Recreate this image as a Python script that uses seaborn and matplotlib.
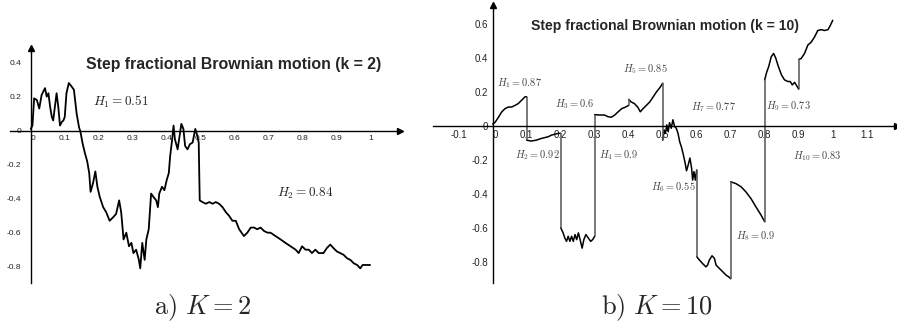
import numpy as np
import pandas as pd
import matplotlib
matplotlib.use("Agg")
import matplotlib.pyplot as plt
import seaborn as sns

sns.set_style("white")
plt.rcParams["font.family"] = ["Liberation Sans", "DejaVu Sans"]
plt.rcParams["mathtext.fontset"] = "cm"

# ── panel a) k = 2 : path ─────────────────────────────────────────────────
k2_t = [0, 0.005, 0.01, 0.018, 0.025, 0.032, 0.037, 0.042, 0.047, 0.052,
        0.057, 0.062, 0.066, 0.071, 0.076, 0.081, 0.086, 0.091, 0.096, 0.100,
        0.105, 0.112, 0.120, 0.127, 0.135, 0.142, 0.146, 0.152, 0.159, 0.166,
        0.172, 0.176, 0.183, 0.190, 0.196, 0.203, 0.213, 0.222, 0.232, 0.242,
        0.251, 0.260, 0.266, 0.273, 0.281, 0.289, 0.296, 0.302, 0.310, 0.318,
        0.322, 0.328, 0.335, 0.340, 0.347, 0.354, 0.361, 0.369, 0.374, 0.378,
        0.386, 0.393, 0.400, 0.406, 0.410, 0.416, 0.420, 0.424, 0.432, 0.437,
        0.443, 0.449, 0.454, 0.461, 0.468, 0.476, 0.484, 0.490, 0.494, 0.497,
        0.505, 0.515, 0.525, 0.535, 0.544, 0.554, 0.564, 0.574, 0.583, 0.593,
        0.603, 0.613, 0.627, 0.637, 0.647, 0.657, 0.666, 0.676, 0.686, 0.696,
        0.705, 0.720, 0.735, 0.749, 0.764, 0.779, 0.788, 0.798, 0.808, 0.818,
        0.827, 0.837, 0.847, 0.861, 0.871, 0.881, 0.890, 0.900, 0.910, 0.920,
        0.930, 0.940, 0.950, 0.960, 0.969, 0.976, 0.984, 0.993, 0.998]
k2_v = [0.01, 0.03, 0.19, 0.18, 0.13, 0.21, 0.23, 0.25, 0.20, 0.22,
        0.14, 0.08, 0.06, 0.14, 0.22, 0.14, 0.03, 0.05, 0.06, 0.08,
        0.22, 0.28, 0.26, 0.24, 0.10, 0.02, -0.005, -0.07, -0.13, -0.18,
        -0.25, -0.36, -0.31, -0.24, -0.33, -0.39, -0.45, -0.48, -0.53, -0.51,
        -0.49, -0.41, -0.48, -0.64, -0.60, -0.68, -0.66, -0.72, -0.70, -0.76,
        -0.81, -0.66, -0.76, -0.64, -0.58, -0.37, -0.39, -0.41, -0.45, -0.37,
        -0.33, -0.35, -0.29, -0.25, -0.15, -0.05, 0.03, -0.05, -0.11, -0.04,
        0.04, 0.01, -0.09, -0.11, -0.08, -0.07, 0.01, -0.03, -0.07, -0.41,
        -0.42, -0.43, -0.42, -0.43, -0.42, -0.43, -0.45, -0.48, -0.50, -0.53,
        -0.53, -0.58, -0.62, -0.60, -0.57, -0.57, -0.58, -0.57, -0.59, -0.60,
        -0.60, -0.62, -0.64, -0.66, -0.68, -0.70, -0.72, -0.68, -0.70, -0.70,
        -0.72, -0.70, -0.72, -0.72, -0.69, -0.67, -0.69, -0.71, -0.72, -0.73,
        -0.75, -0.76, -0.78, -0.79, -0.81, -0.79, -0.79, -0.79, -0.79]
k2_H = ["0.51", "0.84"]

# ── panel b) k = 10 : one piece per interval ─────────────────────────────
k10_t = [0, 0.007, 0.017, 0.026, 0.036, 0.046, 0.056, 0.066, 0.075, 0.085, 0.095, 0.1,
         0.1, 0.113, 0.128, 0.143, 0.153, 0.163, 0.173, 0.183, 0.193, 0.2,
         0.2, 0.207, 0.212, 0.217, 0.222, 0.227, 0.232, 0.237, 0.242, 0.247,
         0.252, 0.257, 0.263, 0.268, 0.274, 0.281, 0.288, 0.294, 0.3,
         0.3, 0.314, 0.329, 0.339, 0.349, 0.359, 0.369, 0.379, 0.389, 0.4,
         0.4, 0.407, 0.417, 0.427, 0.434, 0.442, 0.452, 0.462, 0.472, 0.482, 0.492, 0.5,
         0.5, 0.504, 0.508, 0.512, 0.516, 0.52, 0.525, 0.53, 0.535, 0.54, 0.545, 0.55,
         0.555, 0.56, 0.565, 0.57, 0.575, 0.58, 0.585, 0.588, 0.592, 0.596, 0.6,
         0.6, 0.608, 0.617, 0.627, 0.632, 0.637, 0.645, 0.652, 0.657, 0.667, 0.677,
         0.687, 0.695, 0.7,
         0.7, 0.715, 0.731, 0.745, 0.76, 0.775, 0.789, 0.8,
         0.8, 0.805, 0.812, 0.819, 0.826, 0.832, 0.839, 0.849, 0.858, 0.868, 0.875,
         0.881, 0.888, 0.9,
         0.9, 0.907, 0.917, 0.927, 0.936, 0.946, 0.956, 0.966, 0.976, 0.986, 0.993, 1.0]
k10_v = [0.01, 0.02, 0.05, 0.08, 0.10, 0.11, 0.11, 0.12, 0.13, 0.15, 0.17, 0.17,
         -0.085, -0.09, -0.085, -0.075, -0.07, -0.065, -0.055, -0.05, -0.045, -0.045,
         -0.60, -0.63, -0.66, -0.68, -0.65, -0.68, -0.65, -0.68, -0.64, -0.67,
         -0.63, -0.67, -0.72, -0.67, -0.64, -0.66, -0.68, -0.67, -0.65,
         0.065, 0.063, 0.063, 0.053, 0.05, 0.063, 0.082, 0.10, 0.108, 0.12,
         0.155, 0.14, 0.13, 0.108, 0.082, 0.10, 0.12, 0.14, 0.17, 0.20, 0.225, 0.25,
         -0.085, -0.025, -0.045, 0.005, -0.035, 0.018, -0.015, 0.035, -0.005, -0.015, -0.045, -0.095,
         -0.125, -0.165, -0.21, -0.265, -0.23, -0.19, -0.25, -0.32, -0.27, -0.32, -0.26,
         -0.77, -0.79, -0.81, -0.83, -0.82, -0.79, -0.765, -0.78, -0.82, -0.84, -0.86,
         -0.88, -0.89, -0.90,
         -0.33, -0.34, -0.36, -0.39, -0.43, -0.48, -0.525, -0.565,
         0.27, 0.31, 0.35, 0.405, 0.425, 0.40, 0.355, 0.30, 0.27, 0.26, 0.26,
         0.24, 0.255, 0.215,
         0.39, 0.395, 0.425, 0.475, 0.49, 0.52, 0.56, 0.565, 0.56, 0.565, 0.59, 0.62]
k10_seg = ([0] * 12 + [1] * 10 + [2] * 19 + [3] * 10 + [4] * 12 + [5] * 23
           + [6] * 14 + [7] * 8 + [8] * 14 + [9] * 12)
k10_H = ["0.87", "0.92", "0.6", "0.9", "0.85", "0.55", "0.77", "0.9", "0.73", "0.83"]

k2_xticks = [0, 0.1, 0.2, 0.3, 0.4, 0.5, 0.6, 0.7, 0.8, 0.9, 1]
k2_yticks = [-0.8, -0.6, -0.4, -0.2, 0, 0.2, 0.4]
k10_xticks = [-0.1, 0, 0.1, 0.2, 0.3, 0.4, 0.5, 0.6, 0.7, 0.8, 0.9, 1, 1.1]
k10_yticks = [-0.8, -0.6, -0.4, -0.2, 0, 0.2, 0.4, 0.6]

# label spots (data coords)
k2_Hpos = [(0.266, 0.17), (0.807, -0.37)]
k10_Hpos = [(0.08, 0.25), (0.13, -0.17), (0.24, 0.127), (0.37, -0.17), (0.45, 0.33),
            (0.53, -0.36), (0.65, 0.108), (0.775, -0.65), (0.87, 0.116), (0.953, -0.18)]

W, H = 897, 323
fig = plt.figure(figsize=(W / 100, H / 100), dpi=100)


def px_axes(x0, y0, x1, y1):
    return fig.add_axes([x0 / W, 1 - y1 / H, (x1 - x0) / W, (y1 - y0) / H])


def style_axes(ax, xticks, yticks, fs, ypad):
    for s in ["top", "right"]:
        ax.spines[s].set_visible(False)
    for s in ["left", "bottom"]:
        ax.spines[s].set_position(("data", 0))
        ax.spines[s].set_linewidth(1.0)
        ax.spines[s].set_color("black")
    ax.set_xticks(xticks, [f"{t:g}" for t in xticks])
    ax.set_yticks(yticks, [f"{t:g}" for t in yticks])
    ax.tick_params(length=0, labelsize=fs, colors="#222222")
    ax.tick_params(axis="y", pad=ypad)
    ax.tick_params(axis="x", pad=3)
    for lab in ax.get_xticklabels():
        if lab.get_text() == "0":
            lab.set_horizontalalignment("left")
    ax.plot(1, 0, ">", color="black", ms=4, transform=ax.get_yaxis_transform(), clip_on=False)
    ax.plot(0, 1, "^", color="black", ms=4, transform=ax.get_xaxis_transform(), clip_on=False)
    ax.set_xlabel("")
    ax.set_ylabel("")


# ── a) ──
ax1 = px_axes(10, 48, 400, 283)
ax1.set_xlim(-0.061, 1.086)
ax1.set_ylim(-0.896, 0.486)
sns.lineplot(x=k2_t, y=k2_v, sort=False, estimator=None, color="black", lw=1.3, ax=ax1)
style_axes(ax1, k2_xticks, k2_yticks, 6, 7)
ax1.text(0.598, 0.39, "Step fractional Brownian motion (k = 2)", ha="center", va="center",
         fontsize=11.4, fontweight="bold")
for i, (h, (x, y)) in enumerate(zip(k2_H, k2_Hpos)):
    ax1.text(x, y, rf"$H_{{{i + 1}}} = {h}$", ha="center", va="center", fontsize=9.5, color="#222222")

# ── b) ──
ax2 = px_axes(433, 5, 897, 283)
ax2.set_xlim(-0.1756, 1.189)
ax2.set_ylim(-0.925, 0.710)
df10 = pd.DataFrame({"t": k10_t, "v": k10_v, "seg": k10_seg})
sns.lineplot(data=df10, x="t", y="v", units="seg", estimator=None, sort=False,
             color="black", lw=1.1, ax=ax2)
ends = df10.groupby("seg").agg(t0=("t", "first"), v0=("v", "first"), v1=("v", "last"))
ax2.vlines(ends["t0"].values[1:], ends["v1"].values[:-1], ends["v0"].values[1:],
           color="#555555", lw=1.1)
style_axes(ax2, k10_xticks, k10_yticks, 7, 3.5)
ax2.text(0.508, 0.585, "Step fractional Brownian motion (k = 10)", ha="center", va="center",
         fontsize=10.1, fontweight="bold")
for i, (h, (x, y)) in enumerate(zip(k10_H, k10_Hpos)):
    ax2.text(x, y, rf"$H_{{{i + 1}}} = {h}$", ha="center", va="center", fontsize=7.5, color="#444444")

fig.text(203 / W, 1 - 308 / H, r"$\mathrm{a)}\ K = 2$", ha="center", va="center", fontsize=19)
fig.text(657 / W, 1 - 308 / H, r"$\mathrm{b)}\ K = 10$", ha="center", va="center", fontsize=19)

fig.savefig("out.png", dpi=100)
